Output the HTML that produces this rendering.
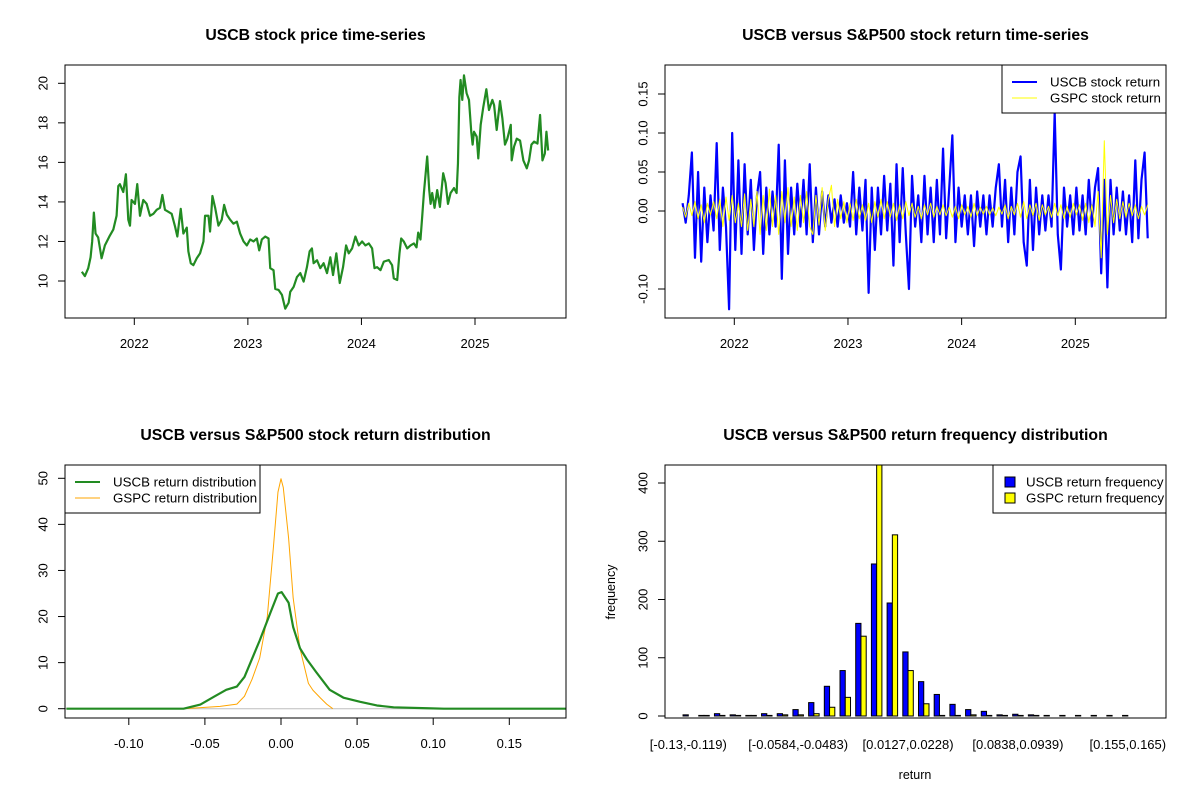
<!DOCTYPE html>
<html><head><meta charset="utf-8"><style>
html,body{margin:0;padding:0;background:#fff;}
svg{display:block;font-family:"Liberation Sans",Arial,sans-serif;}
</style></head><body>
<svg id="svg" width="1200" height="800" viewBox="0 0 1200 800" xmlns="http://www.w3.org/2000/svg">
<defs>
<clipPath id="c1"><rect x="65" y="65" width="501" height="253"/></clipPath>
<clipPath id="c2"><rect x="665" y="65" width="501" height="253"/></clipPath>
<clipPath id="c3"><rect x="65" y="465" width="501" height="253"/></clipPath>
<clipPath id="c4"><rect x="665" y="465" width="501" height="253"/></clipPath>
</defs>
</svg>
<script>
// ---------- Panel 1: price ----------
const priceDates=[2021.538,2021.565,2021.594,2021.615,2021.629,2021.644,2021.659,2021.682,2021.712,2021.741,2021.785,2021.815,2021.844,2021.859,2021.873,2021.903,2021.926,2021.947,2021.962,2021.976,2022.006,2022.026,2022.050,2022.079,2022.109,2022.138,2022.168,2022.197,2022.226,2022.247,2022.270,2022.300,2022.329,2022.359,2022.379,2022.409,2022.432,2022.462,2022.476,2022.497,2022.520,2022.550,2022.579,2022.609,2022.623,2022.653,2022.667,2022.688,2022.712,2022.741,2022.770,2022.791,2022.815,2022.844,2022.873,2022.903,2022.932,2022.962,2022.991,2023.020,2023.050,2023.079,2023.100,2023.123,2023.153,2023.182,2023.197,2023.226,2023.241,2023.270,2023.300,2023.329,2023.359,2023.373,2023.403,2023.432,2023.462,2023.491,2023.520,2023.544,2023.564,2023.579,2023.609,2023.638,2023.667,2023.697,2023.726,2023.750,2023.779,2023.809,2023.838,2023.865,2023.888,2023.918,2023.947,2023.976,2024.006,2024.035,2024.065,2024.094,2024.115,2024.138,2024.168,2024.197,2024.241,2024.270,2024.285,2024.315,2024.335,2024.350,2024.373,2024.403,2024.432,2024.462,2024.485,2024.500,2024.520,2024.535,2024.550,2024.579,2024.597,2024.609,2024.623,2024.644,2024.667,2024.691,2024.720,2024.741,2024.762,2024.785,2024.815,2024.838,2024.850,2024.862,2024.873,2024.888,2024.903,2024.926,2024.947,2024.967,2024.979,2024.991,2025.015,2025.029,2025.050,2025.073,2025.100,2025.123,2025.153,2025.168,2025.191,2025.220,2025.241,2025.264,2025.285,2025.315,2025.323,2025.344,2025.368,2025.397,2025.426,2025.456,2025.476,2025.497,2025.520,2025.550,2025.573,2025.594,2025.615,2025.629,2025.644];
const priceValues=[10.47,10.25,10.64,11.2,12.0,13.46,12.4,12.2,11.15,11.8,12.3,12.6,13.3,14.8,14.9,14.5,15.4,13.1,12.8,14.1,13.9,14.9,13.3,14.1,13.9,13.3,13.4,13.6,13.7,14.35,13.6,13.5,13.4,12.75,12.25,13.65,12.4,12.7,11.5,10.9,10.8,11.15,11.4,12.0,13.3,13.3,12.5,14.3,13.7,12.8,13.1,13.85,13.35,13.1,12.9,13.0,12.4,12.0,11.8,12.1,12.0,12.15,11.55,12.1,12.25,12.15,10.65,10.55,9.6,9.55,9.3,8.6,8.9,9.45,9.7,10.2,10.4,9.97,10.7,11.5,11.65,10.9,11.05,10.65,10.9,10.4,11.2,10.3,11.4,9.9,10.7,11.8,11.4,11.65,12.25,11.8,12.0,11.8,11.9,11.65,10.65,10.7,10.55,10.98,11.06,10.8,10.13,10.05,11.4,12.15,12.0,11.65,11.8,11.9,11.7,12.45,12.1,13.25,14.45,16.3,14.6,13.9,14.45,13.7,14.6,13.75,15.45,14.95,13.9,14.45,14.7,14.45,15.95,19.3,20.17,19.16,20.4,19.5,19.16,17.55,16.9,17.55,17.3,16.2,17.9,18.8,19.7,18.65,19.16,18.9,17.64,19.1,18.23,16.9,17.2,17.9,16.1,16.8,17.2,17.1,16.1,15.7,16.1,16.9,17.05,16.95,18.4,16.1,16.45,17.55,16.6];
const priceYTicks=[10,12,14,16,18,20];
const yearTicks=[2022,2023,2024,2025];
// ---------- Panel 2: returns ----------
const retStart=2021.545, retEnd=2025.637;
const uscbReturns=[0.01,-0.015,0.02,0.075,-0.06,0.05,-0.065,0.03,-0.04,0.02,-0.025,0.087,-0.05,0.03,-0.02,-0.126,0.10,-0.05,0.065,-0.055,0.06,-0.03,0.04,-0.05,0.02,0.05,-0.055,0.03,-0.03,0.025,-0.02,0.085,-0.087,0.065,-0.055,0.03,-0.03,0.035,-0.02,0.04,-0.03,0.06,-0.04,0.03,-0.03,0.025,-0.02,0.02,-0.015,0.015,-0.02,0.02,-0.015,0.01,-0.02,0.05,-0.03,0.03,-0.025,0.04,-0.105,0.03,-0.05,0.03,-0.03,0.045,-0.025,0.035,-0.07,0.06,-0.04,0.055,-0.03,-0.10,0.045,-0.02,0.02,-0.04,0.045,-0.03,0.03,-0.04,0.04,-0.03,0.08,-0.035,0.03,0.097,-0.04,0.03,-0.02,0.02,-0.03,0.02,-0.045,0.025,-0.02,0.02,-0.03,0.02,-0.02,0.03,0.06,-0.02,0.04,-0.04,0.03,-0.03,0.05,0.07,-0.04,-0.07,0.04,-0.05,0.03,-0.03,0.02,-0.025,0.02,-0.02,0.126,-0.03,-0.075,0.03,-0.02,0.02,-0.03,0.03,-0.025,0.02,-0.03,0.04,-0.02,0.03,0.055,-0.08,0.04,-0.098,0.04,-0.03,0.03,-0.025,0.025,-0.03,0.02,-0.04,0.065,-0.035,0.04,0.075,-0.035];
const gspcReturns=[0.005,-0.008,0.01,-0.006,0.012,-0.01,0.008,-0.015,0.01,-0.005,0.012,-0.01,0.015,-0.02,0.018,-0.012,0.02,-0.015,0.01,-0.02,0.022,-0.025,0.015,-0.02,0.025,-0.03,0.02,-0.025,0.028,-0.02,0.02,-0.03,0.025,-0.015,0.03,-0.02,0.018,-0.025,0.02,-0.015,0.025,-0.02,-0.03,0.02,-0.018,0.03,-0.025,0.015,0.033,-0.02,0.015,-0.01,0.012,-0.015,0.01,-0.012,0.015,-0.01,0.008,-0.012,0.01,-0.015,0.012,-0.008,0.015,-0.01,0.012,-0.008,0.01,-0.012,0.008,-0.01,0.012,-0.006,0.01,-0.008,0.006,-0.01,0.008,-0.005,0.01,-0.008,0.006,-0.005,0.008,-0.006,0.005,-0.008,0.006,-0.01,0.008,-0.005,0.006,-0.008,0.01,-0.006,0.005,-0.004,0.006,-0.005,0.004,-0.006,0.005,-0.004,0.008,-0.01,0.006,-0.005,0.01,-0.008,0.012,-0.01,0.008,-0.006,0.01,-0.012,0.008,-0.005,0.006,-0.008,0.01,-0.006,0.008,-0.01,0.006,-0.008,0.01,-0.005,0.008,-0.012,0.01,-0.015,0.008,-0.02,0.025,-0.06,0.09,-0.03,0.02,-0.015,0.015,-0.01,0.012,-0.008,0.01,-0.006,0.008,-0.01,0.006,-0.005,0.008];
const retYTicks=[0.15,0.10,0.05,0.00,-0.10];
const retYLabels=["0.15","0.10","0.05","0.00","-0.10"];
// ---------- Panel 3: density ----------
const uscbDensX=[-0.141,-0.064,-0.053,-0.044,-0.036,-0.029,-0.024,-0.014,-0.007,-0.002,0.0004,0.005,0.008,0.0125,0.017,0.023,0.032,0.041,0.052,0.063,0.074,0.096,0.107,0.187];
const uscbDensY=[0,0,0.9,2.6,4.1,4.8,6.9,14.8,20.8,25,25.3,23,17.7,13.1,10.7,8,4.1,2.4,1.5,0.7,0.3,0.1,0,0];
const gspcDensX=[-0.064,-0.040,-0.029,-0.024,-0.019,-0.014,-0.009,-0.005,-0.002,0,0.0015,0.005,0.008,0.0125,0.018,0.021,0.026,0.030,0.034];
const gspcDensY=[0,0.5,1,2.7,6.4,11,20,35,47,49.9,48,37,24,13,5.5,4,2.3,1,0];
const densXTicks=[-0.10,-0.05,0.00,0.05,0.10,0.15];
const densXLabels=["-0.10","-0.05","0.00","0.05","0.10","0.15"];
const densYTicks=[0,10,20,30,40,50];
// ---------- Panel 4: histogram ----------
const uscbFreq=[2,1,4,2,1,4,4,11,23,51,78,159,261,194,110,59,37,20,11,8,2,3,2,1,1,1,1,1,1];
const gspcFreq=[0,1,1,1,1,1,2,2,4,15,32,137,480,311,78,21,1,1,2,1,1,1,1,0,0,0,0,0,0];
const binLabelIdx=[0,7,14,21,28];
const binLabels=["[-0.13,-0.119)","[-0.0584,-0.0483)","[0.0127,0.0228)","[0.0838,0.0939)","[0.155,0.165)"];
const histYTicks=[0,100,200,300,400];

const svg=document.getElementById('svg');
const NS='http://www.w3.org/2000/svg';
function mk(tag,attrs,parent,text){const e=document.createElementNS(NS,tag);for(const k in attrs)e.setAttribute(k,attrs[k]);if(text!==undefined)e.textContent=text;(parent||svg).appendChild(e);return e;}
function lin(d0,d1,r0,r1){return v=>r0+(v-d0)*(r1-r0)/(d1-d0);}

function frame(x0,name,title,ty){
  const g=mk('g',{});
  const t=mk('text',{x:x0+250.5,y:ty,'text-anchor':'middle','font-size':'15.8','font-weight':'bold'},g,title);
  
  return g;
}
function box(g,x,y,nm){const r=mk('rect',{x:x,y:y,width:501,height:253,fill:'none',stroke:'#000','stroke-width':1},g);}
function yAxis(g,bx,ticks,labels,sy,nm){
  const a=mk('g',{},g);
  ticks.forEach((v,i)=>{const y=sy(v);
    mk('line',{x1:bx-7,x2:bx,y1:y,y2:y,stroke:'#000'},a);
    const lx=bx-22;
    const t=mk('text',{x:lx,y:y,'font-size':'13','text-anchor':'middle',transform:'rotate(-90 '+lx+' '+y+')','dominant-baseline':'central'},a,labels[i]);
    
  });
}
function xAxis(g,by,ticks,labels,sx,nm){
  const a=mk('g',{},g);
  ticks.forEach((v,i)=>{const x=sx(v);
    mk('line',{x1:x,x2:x,y1:by,y2:by+7,stroke:'#000'},a);
    const t=mk('text',{x:x,y:by+30,'font-size':'13','text-anchor':'middle'},a,labels[i]);
    
  });
}
function path(g,xs,ys,sx,sy,color,w,clip,nm){
  let d='';xs.forEach((x,i)=>{d+=(i?'L':'M')+sx(x).toFixed(2)+' '+sy(ys[i]).toFixed(2);});
  const p=mk('path',{d:d,fill:'none',stroke:color,'stroke-width':w,'clip-path':'url(#'+clip+')','stroke-linejoin':'round'},g);
  
}
function legend(g,x,y,w,items,nm){
  const lg=mk('g',{},g);
  mk('rect',{x:x,y:y,width:w,height:48,fill:'#fff',stroke:'#000'},lg);
  items.forEach((it,i)=>{const yy=y+17+i*16;
    const e=mk('g',{},lg);
    if(it.sq){mk('rect',{x:x+12,y:yy-5,width:10,height:10,fill:it.c,stroke:'#000'},e);}
    else mk('line',{x1:x+10,x2:x+35,y1:yy,y2:yy,stroke:it.c,'stroke-width':it.w},e);
    mk('text',{x:x+it.tx,y:yy+4.5,'font-size':'13.3'},e,it.t);
  });
}

// Panel 1
(function(){
  const g=frame(65,'price-panel','USCB stock price time-series',40);
  const sx=lin(2022,2025,134.3,475),sy=lin(10,20,281,83.3);
  path(g,priceDates,priceValues,sx,sy,'#228B22',2.2,'c1','price-line');
  box(g,65,65,'price-plot-box');
  yAxis(g,65,priceYTicks,priceYTicks.map(String),sy,'price-y-axis');
  xAxis(g,318,yearTicks,yearTicks.map(String),sx,'price-x-axis');
})();
// Panel 2
(function(){
  const g=frame(665,'return-panel','USCB versus S&P500 stock return time-series',40);
  const sx=lin(2022,2025,734.3,1075.3),sy=lin(0,0.15,211,94);
  const n=uscbReturns.length;
  const dates=uscbReturns.map((_,i)=>retStart+(retEnd-retStart)*i/(n-1));
  path(g,dates,uscbReturns,sx,sy,'#0000FF',2.2,'c2','uscb-return-line');
  const m=gspcReturns.length;
  const dates2=gspcReturns.map((_,i)=>retStart+(retEnd-retStart)*i/(m-1));
  path(g,dates2,gspcReturns,sx,sy,'#FFFF00',1,'c2','gspc-return-line');
  box(g,665,65,'return-plot-box');
  yAxis(g,665,retYTicks,retYLabels,sy,'return-y-axis');
  xAxis(g,318,yearTicks,yearTicks.map(String),sx,'return-x-axis');
  legend(g,1002,65,164,[{c:'#0000FF',w:2,t:'USCB stock return',tx:48},{c:'#FFFF00',w:1,t:'GSPC stock return',tx:48}],'return-legend');
})();
// Panel 3
(function(){
  const g=frame(65,'density-panel','USCB versus S&P500 stock return distribution',440);
  const sx=lin(0,0.15,281,509.3),sy=lin(0,50,708.7,478.3);
  const bl=mk('line',{x1:65,x2:566,y1:sy(0),y2:sy(0),stroke:'#bebebe'},g);
  
  path(g,gspcDensX,gspcDensY,sx,sy,'#FFA500',1,'c3','gspc-density-line');
  path(g,uscbDensX,uscbDensY,sx,sy,'#228B22',2.2,'c3','uscb-density-line');
  box(g,65,465,'density-plot-box');
  yAxis(g,65,densYTicks,densYTicks.map(String),sy,'density-y-axis');
  xAxis(g,718,densXTicks,densXLabels,sx,'density-x-axis');
  legend(g,65,465,195,[{c:'#228B22',w:2,t:'USCB return distribution',tx:48},{c:'#FFA500',w:1,t:'GSPC return distribution',tx:48}],'density-legend');
})();
// Panel 4
(function(){
  const g=frame(665,'histogram-panel','USCB versus S&P500 return frequency distribution',440);
  const sx=lin(0,28,688.3,1127.8),sy=lin(0,400,716,483);
  const bw=5.25;
  const bars=mk('g',{'clip-path':'url(#c4)'},g);
  uscbFreq.forEach((v,i)=>{const c=sx(i);
    const r=mk('rect',{x:c-bw,y:sy(v),width:bw,height:sy(0)-sy(v),fill:'#0000FF',stroke:'#000','stroke-width':1},bars);
    
    const v2=gspcFreq[i];
    const r2=mk('rect',{x:c,y:sy(v2),width:bw,height:sy(0)-sy(v2),fill:'#FFFF00',stroke:'#000','stroke-width':1},bars);
    
  });
  box(g,665,465,'histogram-plot-box');
  yAxis(g,665,histYTicks,histYTicks.map(String),sy,'histogram-y-axis');
  const xa=mk('g',{},g);
  binLabelIdx.forEach((b,i)=>{const t=mk('text',{x:sx(b),y:749,'font-size':'13','text-anchor':'middle'},xa,binLabels[i]);});
  const xt=mk('text',{x:915,y:779,'font-size':'12.5','text-anchor':'middle'},g,'return');
  
  const yt=mk('text',{x:615,y:592,'font-size':'12.5','text-anchor':'middle',transform:'rotate(-90 615 592)'},g,'frequency');
  
  legend(g,993,465,173,[{c:'#0000FF',sq:1,t:'USCB return frequency',tx:33},{c:'#FFFF00',sq:1,t:'GSPC return frequency',tx:33}],'histogram-legend');
})();
</script>
</body></html>
